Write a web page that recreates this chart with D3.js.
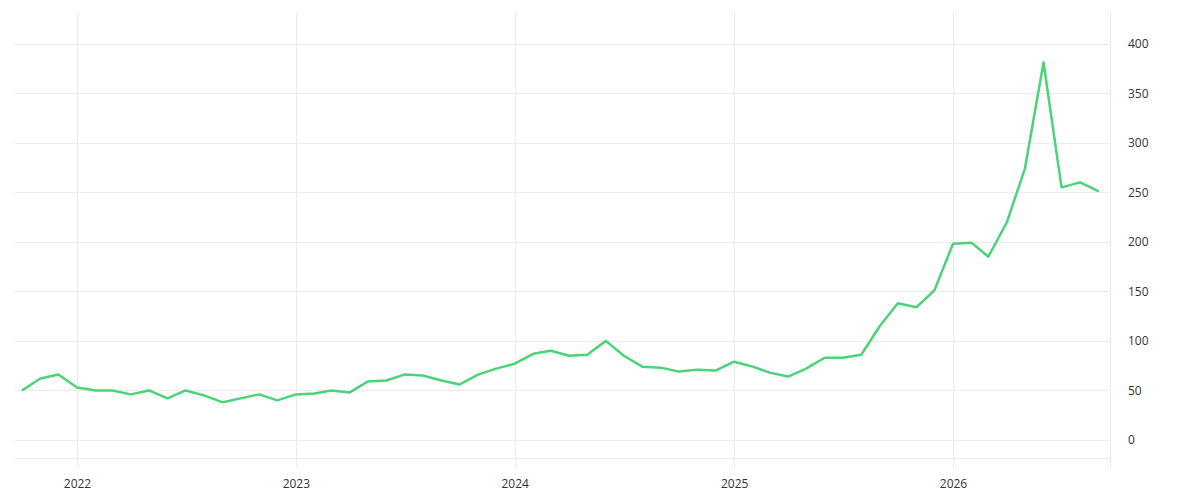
<!DOCTYPE html>
<html><head><meta charset="utf-8">
<script src="https://cdn.jsdelivr.net/npm/d3@7"></script>
<style>body{margin:0;background:#fff}text{font-family:"Open Sans",sans-serif;font-size:12px;fill:#333}</style>
</head><body><svg id="c" width="1200" height="500"></svg>
<script>
var startMonth = new Date(2021, 9, 1);
var values = [50, 62, 66,
  53, 50, 50, 46, 50, 42, 50, 45, 38, 42, 46, 40,
  46, 47, 50, 48, 59, 60, 66, 65, 60, 56, 66, 72,
  77, 87, 90, 85, 86, 100, 85, 74, 73, 69, 71, 70,
  79, 74, 68, 64, 72, 83, 83, 86, 115, 138, 134, 151,
  198, 199, 185, 220, 274, 381, 255, 260, 251];
var yTicks = [0, 50, 100, 150, 200, 250, 300, 350, 400];
var xTicks = [2022, 2023, 2024, 2025, 2026];

var data = values.map(function (v, i) {
  return { date: d3.timeMonth.offset(startMonth, i), value: v };
});

var svg = d3.select("#c"),
    pLeft = 15, pRight = 1110, pTop = 12, pBottom = 468;

var x = d3.scaleTime()
  .domain([new Date(2022, 0, 1), new Date(2026, 0, 1)])
  .range([77, 953]);
var y = d3.scaleLinear().domain([-28.3, 432]).range([pBottom, pTop]);

// grid
svg.append("g").selectAll("line").data(yTicks.concat([-18])).enter().append("line")
  .attr("x1", pLeft).attr("x2", pRight)
  .attr("y1", function (d) { return Math.round(y(d)) + 0.5; })
  .attr("y2", function (d) { return Math.round(y(d)) + 0.5; })
  .attr("stroke", "#ececec");
svg.append("g").selectAll("line").data(xTicks).enter().append("line")
  .attr("x1", function (d) { return Math.round(x(new Date(d, 0, 1))) + 0.5; })
  .attr("x2", function (d) { return Math.round(x(new Date(d, 0, 1))) + 0.5; })
  .attr("y1", pTop).attr("y2", pBottom)
  .attr("stroke", "#ececec");
svg.append("line").attr("x1", pRight + 0.5).attr("x2", pRight + 0.5)
  .attr("y1", pTop).attr("y2", pBottom).attr("stroke", "#ececec");

// axes
var yAxis = svg.append("g").attr("transform", "translate(" + pRight + ",0)")
  .call(d3.axisRight(y).tickValues(yTicks).tickSize(0).tickPadding(18));
yAxis.select(".domain").remove();
var xAxis = svg.append("g").attr("transform", "translate(0," + (pBottom + 8) + ")")
  .call(d3.axisBottom(x).tickValues(xTicks.map(function (d) { return new Date(d, 0, 1); }))
    .tickFormat(d3.timeFormat("%Y")).tickSize(0));
xAxis.select(".domain").remove();
svg.selectAll(".tick text").style("font-family", "'Open Sans',sans-serif").style("font-size", "12px").attr("fill", "#333");

// line
svg.append("path").datum(data)
  .attr("fill", "none").attr("stroke", "#4cd37a").attr("stroke-width", 2.5)
  .attr("stroke-linejoin", "round")
  .attr("d", d3.line().x(function (d) { return x(d.date); }).y(function (d) { return y(d.value); }));
</script></body></html>
